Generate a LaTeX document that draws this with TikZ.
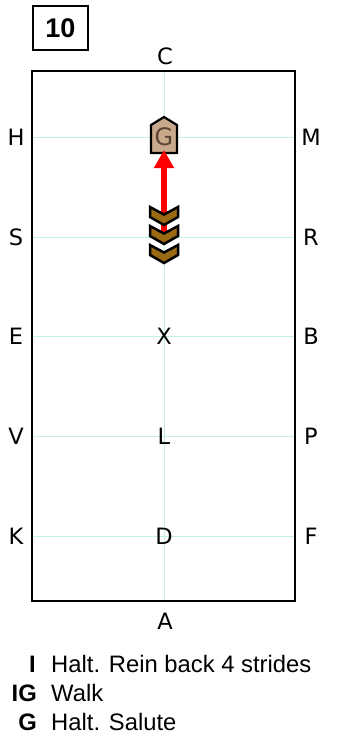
\documentclass[tikz,border=0pt]{standalone}
\usepackage{fontspec}
\setmainfont{Liberation Sans}
\newfontfamily\lettfont{DejaVu Sans}
\usetikzlibrary{arrows.meta}
\definecolor{gridc}{HTML}{BDF3DF}
\definecolor{chevc}{HTML}{9A6912}
\definecolor{pentc}{HTML}{C9A98B}
\definecolor{gtext}{HTML}{5A4535}
\tikzset{
  lett/.style={font=\lettfont\fontsize{22.5}{22.5}\selectfont, inner sep=0pt, anchor=center},
  gridline/.style={draw=gridc, line width=1pt},
  chev/.style={draw=black, fill=chevc, line width=2.5pt, line join=miter},
  legtext/.style={font=\fontsize{23.8}{23.8}\selectfont, anchor=base west, inner sep=0pt},
  legkey/.style={font=\bfseries\fontsize{23.8}{23.8}\selectfont, anchor=base east, inner sep=0pt}
}
\begin{document}
\begin{tikzpicture}[x=1pt,y=-1pt]
\useasboundingbox (0,0) rectangle (337,744);
% title
\node[draw, line width=1.6pt, minimum width=55pt, minimum height=44pt, inner sep=0pt, font=\bfseries\fontsize{27}{27}\selectfont] (title) at (60.5,28) {10};
% grid lines
\coordinate (tl) at (32,71);
\coordinate (br) at (295,601);
\foreach \y in {137,237,336,436,536} \draw[gridline] (32,\y) -- (295,\y);
\draw[gridline] (164,71) -- (164,601);
% arena
\draw[line width=2pt] (tl) rectangle (br);
% letters
\node[lett] (C) at (165,56) {C};
\node[lett] (A) at (165,621) {A};
\node[lett] (H) at (16,137) {H};
\node[lett] (M) at (311,137) {M};
\node[lett] (S) at (16,237) {S};
\node[lett] (R) at (311,237) {R};
\node[lett] (E) at (16,336) {E};
\node[lett] (B) at (311,336) {B};
\node[lett] (V) at (16,436) {V};
\node[lett] (P) at (311,436) {P};
\node[lett] (K) at (16,536) {K};
\node[lett] (F) at (311,536) {F};
\node[lett] (X) at (164,336) {X};
\node[lett] (L) at (164,436) {L};
\node[lett] (D) at (164,536) {D};
% G pentagon
\draw[line width=2.2pt, fill=pentc, line join=miter] (151,125) -- (164,117) -- (177,125) -- (177,153) -- (151,153) -- cycle;
\node[lett, text=gtext, font=\lettfont\fontsize{24}{24}\selectfont] (G) at (164,137) {G};
% red arrow
\coordinate (astart) at (164,234);
\coordinate (aend) at (164,150);
\draw[red, line width=6.5pt, -{Triangle[width=19pt,length=18pt]}] (astart) -- (aend);
% chevrons
\foreach \y in {207,226,245} {
  \draw[chev] (150,\y) -- (164,\y+7.5) -- (178,\y) -- (178,\y+10) -- (164,\y+18) -- (150,\y+10) -- cycle;
}
% legend
\node[legkey] (k1) at (36,672) {I};
\node[legtext] (t1) at (51,672) {Halt. Rein back 4 strides};
\node[legkey] (k2) at (37,701) {IG};
\node[legtext] (t2) at (51,701) {Walk};
\node[legkey] (k3) at (37,730) {G};
\node[legtext] (t3) at (51,730) {Halt. Salute};
\end{tikzpicture}
\end{document}
